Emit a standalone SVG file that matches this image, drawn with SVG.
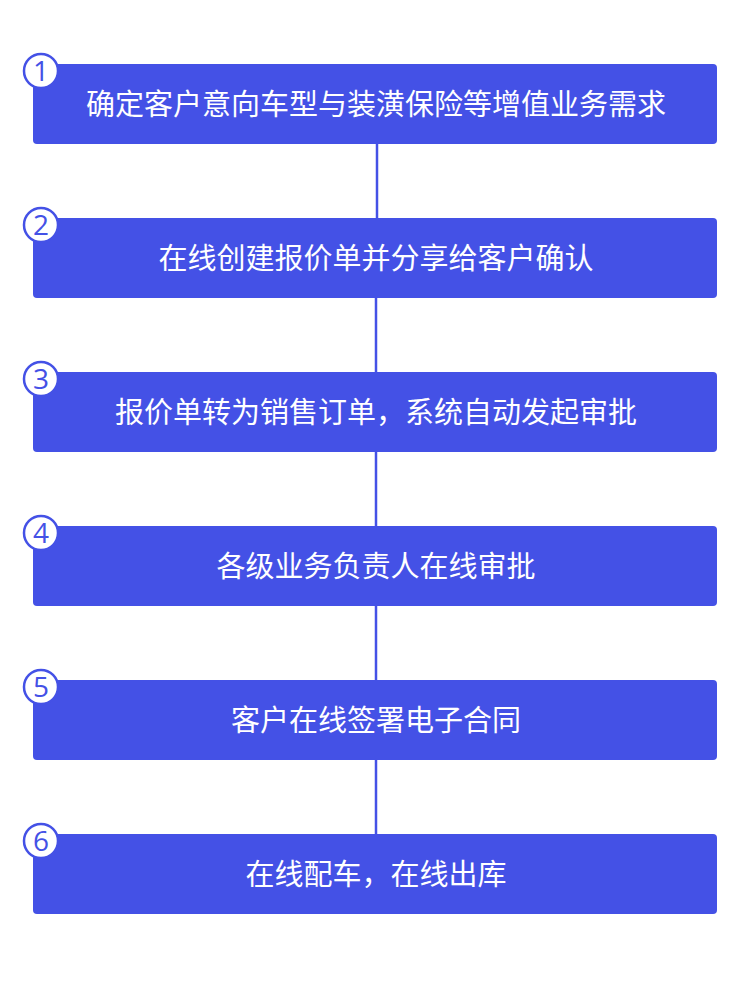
<svg xmlns="http://www.w3.org/2000/svg" width="750" height="987" viewBox="0 0 750 987">
<style>
.box{fill:#4451e6}
.t{fill:#fff;font-family:"Noto Sans CJK SC","Noto Sans",sans-serif;font-size:29px;text-anchor:middle}
.c{fill:#fff;stroke:#4451e6;stroke-width:2.5}
.n{fill:#4451e6;font-family:"Open Sans","Noto Sans",sans-serif;font-size:28px;text-anchor:middle}
.l{stroke:#4451e6;stroke-width:2.5}
</style>
<rect width="750" height="987" fill="#fff"/>
<g id="connectors">
<line class="l" x1="377" y1="144" x2="377" y2="218"/>
<line class="l" x1="376" y1="298" x2="376" y2="372"/>
<line class="l" x1="376" y1="452" x2="376" y2="526"/>
<line class="l" x1="376" y1="606" x2="376" y2="680"/>
<line class="l" x1="376" y1="760" x2="376" y2="834"/>
</g>
<g id="n1"><rect class="box" x="33" y="64" width="684" height="80" rx="4"/><circle class="c" cx="41" cy="71" r="17"/><text class="n" x="41" y="81">1</text><text class="t" x="376" y="115">确定客户意向车型与装潢保险等增值业务需求</text></g>
<g id="n2"><rect class="box" x="33" y="218" width="684" height="80" rx="4"/><circle class="c" cx="41" cy="225" r="17"/><text class="n" x="41" y="235">2</text><text class="t" x="376" y="269">在线创建报价单并分享给客户确认</text></g>
<g id="n3"><rect class="box" x="33" y="372" width="684" height="80" rx="4"/><circle class="c" cx="41" cy="379" r="17"/><text class="n" x="41" y="389">3</text><text class="t" x="376" y="423">报价单转为销售订单，系统自动发起审批</text></g>
<g id="n4"><rect class="box" x="33" y="526" width="684" height="80" rx="4"/><circle class="c" cx="41" cy="533" r="17"/><text class="n" x="41" y="543">4</text><text class="t" x="376" y="577">各级业务负责人在线审批</text></g>
<g id="n5"><rect class="box" x="33" y="680" width="684" height="80" rx="4"/><circle class="c" cx="41" cy="687" r="17"/><text class="n" x="41" y="697">5</text><text class="t" x="376" y="731">客户在线签署电子合同</text></g>
<g id="n6"><rect class="box" x="33" y="834" width="684" height="80" rx="4"/><circle class="c" cx="41" cy="841" r="17"/><text class="n" x="41" y="851">6</text><text class="t" x="376" y="885">在线配车，在线出库</text></g>
</svg>
